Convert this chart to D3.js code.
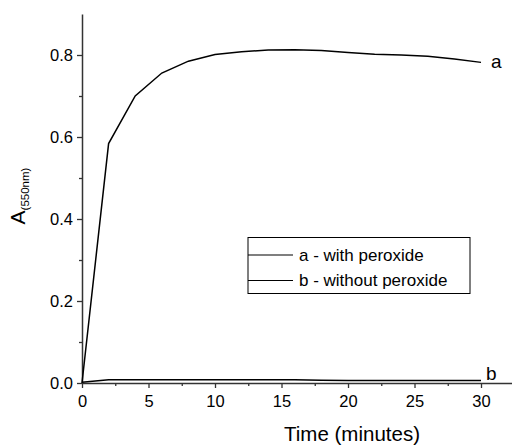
<!DOCTYPE html>
<html>
<head>
  <script src="https://cdn.jsdelivr.net/npm/d3@7"></script>
  <style>
    body { margin: 0; background: white; }
    text { font-family: Arial, "Liberation Sans", sans-serif; fill: black; }
  </style>
</head>
<body>
  <script>
    const times = [0, 2, 4, 6, 8, 10, 12, 14, 16, 18, 20, 22, 24, 26, 28, 30]
    const withPeroxide = [0.0, 0.584, 0.70, 0.756, 0.785, 0.801, 0.808, 0.812, 0.813, 0.811, 0.806, 0.802, 0.800, 0.797, 0.790, 0.782]
    const withoutPeroxide = [0.002, 0.008, 0.008, 0.008, 0.008, 0.008, 0.008, 0.008, 0.008, 0.007, 0.006, 0.006, 0.006, 0.006, 0.006, 0.006]
    const xTicks = [0, 5, 10, 15, 20, 25, 30]
    const yTicks = [0.0, 0.2, 0.4, 0.6, 0.8]
    const legendLabels = ['a - with peroxide', 'b - without peroxide']

    const width = 512, height = 447
    const svg = d3.select('body').append('svg')
      .attr('width', width).attr('height', height)

    const x = d3.scaleLinear().domain([0, 32.33]).range([82, 512])
    const y = d3.scaleLinear().domain([0, 0.9]).range([383, 14])

    const axisColor = '#333'

    // minor ticks first
    svg.append('g')
      .attr('transform', `translate(0,${y(0)})`)
      .call(d3.axisBottom(x).tickValues(d3.range(2.5, 31, 5)).tickSize(3).tickFormat(''))
      .call(g => g.select('.domain').remove())
      .call(g => g.selectAll('line').attr('stroke', axisColor).attr('stroke-width', 1.3))
    svg.append('g')
      .attr('transform', `translate(${x(0)},0)`)
      .call(d3.axisLeft(y).tickValues([0.1, 0.3, 0.5, 0.7]).tickSize(3).tickFormat(''))
      .call(g => g.select('.domain').remove())
      .call(g => g.selectAll('line').attr('stroke', axisColor).attr('stroke-width', 1.3))

    const xAxis = svg.append('g')
      .attr('transform', `translate(0,${y(0)})`)
      .call(d3.axisBottom(x).tickValues(xTicks).tickSize(5).tickSizeOuter(0).tickPadding(7).tickFormat(d3.format('d')))
    const yAxis = svg.append('g')
      .attr('transform', `translate(${x(0)},0)`)
      .call(d3.axisLeft(y).tickValues(yTicks).tickSize(5).tickSizeOuter(0).tickPadding(4).tickFormat(d3.format('.1f')))

    ;[xAxis, yAxis].forEach(g => {
      g.select('.domain').attr('stroke', axisColor).attr('stroke-width', 1.5)
      g.selectAll('.tick line').attr('stroke', axisColor).attr('stroke-width', 1.3)
      g.selectAll('.tick text').attr('font-size', 16.5).attr('fill', 'black')
        .style('font-family', 'Arial, "Liberation Sans", sans-serif')
    })
    yAxis.selectAll('.tick text').attr('dy', '0.35em')

    const line = d3.line().x((d, i) => x(times[i])).y(d => y(d))

    svg.append('path').datum(withPeroxide)
      .attr('d', line).attr('fill', 'none').attr('stroke', 'black').attr('stroke-width', 1.5)
    svg.append('path').datum(withoutPeroxide)
      .attr('d', line).attr('fill', 'none').attr('stroke', 'black').attr('stroke-width', 1.5)

    svg.append('text').attr('x', x(30) + 10).attr('y', y(withPeroxide[withPeroxide.length - 1]) + 6)
      .attr('font-size', 19).text('a')
    svg.append('text').attr('x', x(30) + 5).attr('y', y(0) - 3)
      .attr('font-size', 19).text('b')

    // legend
    const legend = svg.append('g')
    legend.append('rect')
      .attr('x', 248).attr('y', 237.5).attr('width', 222).attr('height', 56)
      .attr('fill', 'white').attr('stroke', 'black').attr('stroke-width', 1)
    legendLabels.forEach((label, i) => {
      const ly = 255 + i * 25.5
      legend.append('line')
        .attr('x1', 248).attr('x2', 293).attr('y1', ly).attr('y2', ly)
        .attr('stroke', 'black').attr('stroke-width', 1.2)
      legend.append('text').attr('x', 299).attr('y', ly + 5.5)
        .attr('font-size', 17).text(label)
    })

    // axis titles
    svg.append('text').attr('x', 352).attr('y', 441)
      .attr('text-anchor', 'middle').attr('font-size', 20.5).text('Time (minutes)')

    const yTitle = svg.append('text')
      .attr('transform', 'translate(25,196) rotate(-90)')
      .attr('text-anchor', 'middle').attr('font-size', 21)
    yTitle.append('tspan').text('A')
    yTitle.append('tspan').attr('font-size', 11.5).attr('dy', 4).text('(550nm)')
  </script>
</body>
</html>
